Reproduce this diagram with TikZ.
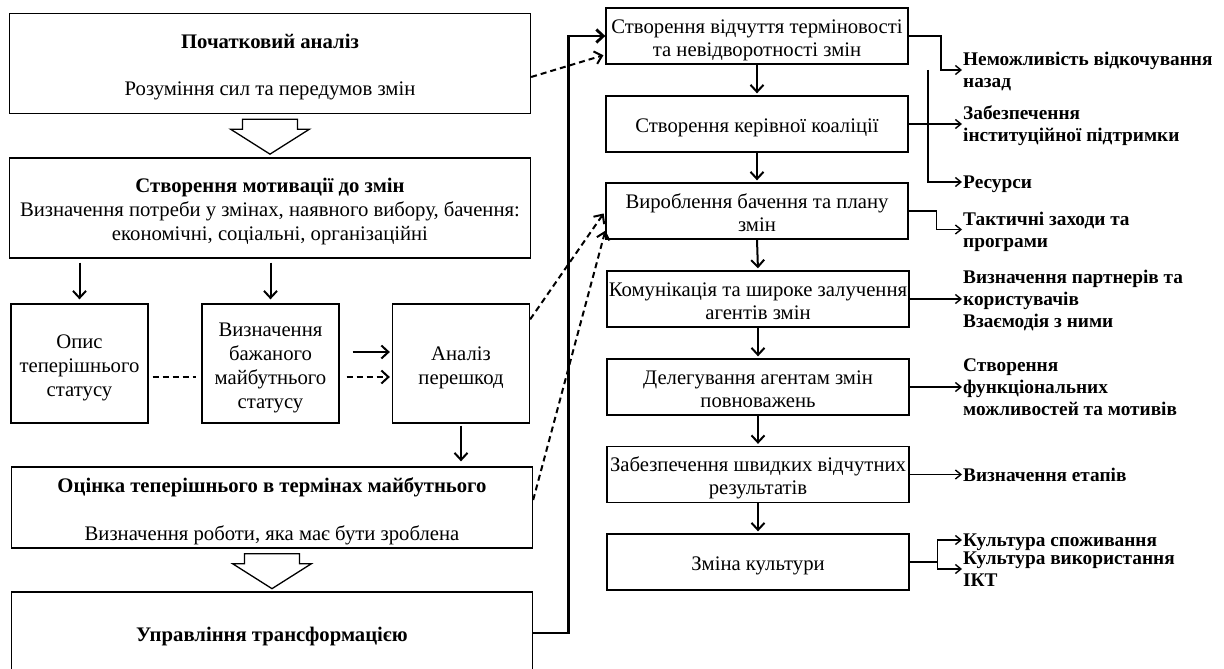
\documentclass[tikz,border=0pt]{standalone}
\usepackage{fontspec}
\setmainfont{Liberation Serif}
\usetikzlibrary{positioning, arrows.meta, calc}

% text set a little lower than the middle of its box
\newcommand{\boxtext}[1]{\raisebox{-4pt}[\height][\depth]{\begin{tabular}{@{}c@{}}#1\end{tabular}}}
\newcommand{\labeltext}[1]{\raisebox{-2.5pt}[\height][\depth]{\begin{tabular}{@{}l@{}}#1\end{tabular}}}

\tikzset{
  box/.style={draw, line width=1.3pt, inner sep=0pt, font=\fontsize{20.7}{24}\selectfont},
  wbox/.style={box, minimum width=521pt},
  sbox/.style={box, minimum width=137pt, minimum height=119pt},
  stage/.style={box, minimum width=302pt, minimum height=56pt, font=\fontsize{20.7}{23}\selectfont},
  rlabel/.style={anchor=west, inner sep=1pt, font=\bfseries\fontsize{19.3}{22}\selectfont},
  arr/.style={-{Straight Barb[length=7pt,width=13pt]}, line width=2pt},
  tarr/.style={-{Straight Barb[length=5.5pt,width=9pt]}, line width=1.4pt},
  darr/.style={arr, dash pattern=on 6pt off 4pt},
}

\begin{document}
\begin{tikzpicture}[x=1pt, y=-1pt]
                \useasboundingbox (0,0) rectangle (1224,669);

                % left column
                \node[wbox, minimum height=100pt] (Analysis) at (270,63.5) {\boxtext{\textbf{Початковий аналіз}\\[23pt]Розуміння сил та передумов змін}};
                \node[wbox, minimum height=100pt] (Motivation) at (270,208) {\boxtext{\textbf{Створення мотивації до змін}\\Визначення потреби у змінах, наявного вибору, бачення:\\економічні, соціальні, організаційні}};
                \node[sbox] (Current) at (79.5,363.5) {\boxtext{Опис\\теперішнього\\статусу}};
                \node[sbox] (Desired) at (270.5,363.5) {\boxtext{Визначення\\бажаного\\майбутнього\\статусу}};
                \node[sbox] (Barriers) at (461,363.5) {\boxtext{Аналіз\\перешкод}};
                \node[wbox, minimum height=81pt] (Assessment) at (272,507.5) {\boxtext{\textbf{Оцінка теперішнього в термінах майбутнього}\\[24pt]Визначення роботи, яка має бути зроблена}};
                \node[wbox, minimum height=82pt] (Management) at (272,633) {\boxtext{\textbf{Управління трансформацією}}};

                % right column
                \node[stage] (Urgency) at (757,36) {\boxtext{Створення відчуття терміновості\\та невідворотності змін}};
                \node[stage] (Coalition) at (757,124) {\boxtext{Створення керівної коаліції}};
                \node[stage] (Vision) at (757,211) {\boxtext{Вироблення бачення та плану\\змін}};
                \node[stage] (Communication) at (758,299) {\boxtext{Комунікація та широке залучення\\агентів змін}};
                \node[stage] (Delegation) at (758,387) {\boxtext{Делегування агентам змін\\повноважень}};
                \node[stage] (QuickWins) at (758,474.5) {\boxtext{Забезпечення швидких відчутних\\результатів}};
                \node[stage] (Culture) at (758,562) {\boxtext{Зміна культури}};

                \node[rlabel] (NoReturn) at (962,70) {\labeltext{Неможливість відкочування\\назад}};
                \node[rlabel] (Support) at (962,124) {\labeltext{Забезпечення\\інституційної підтримки}};
                \node[rlabel] (Resources) at (962,182) {\labeltext{Ресурси}};
                \node[rlabel] (Tactics) at (962,229.5) {\labeltext{Тактичні заходи та\\програми}};
                \node[rlabel] (Partners) at (962,299) {\labeltext{Визначення партнерів та\\користувачів\\Взаємодія з ними}};
                \node[rlabel] (Capabilities) at (962,387) {\labeltext{Створення\\функціональних\\можливостей та мотивів}};
                \node[rlabel] (Milestones) at (962,474.5) {\labeltext{Визначення етапів}};
                \node[rlabel] (Consumption) at (962,540) {\labeltext{Культура споживання}};
                \node[rlabel] (Usage) at (962,569) {\labeltext{Культура використання\\ІКТ}};

                % hollow arrows
                \foreach \src in {Analysis, Assessment}
                    \draw[line width=1.3pt, shift={(\src.south)}] (-27.5,5) -- (27.5,5) -- (27.5,15) -- (39.5,15) -- (0,40) -- (-39.5,15) -- (-27.5,15) -- cycle;

                \draw[arr, shorten <=4pt, shorten >=4pt] (Motivation.south -| Current.north) -- (Current.north);
                \draw[arr, shorten <=4pt, shorten >=4pt] (Motivation.south -| Desired.north) -- (Desired.north);
                \draw[darr, -, shorten <=4pt, shorten >=5pt] ([yshift=-13.5pt]Current.east) -- ([yshift=-13.5pt]Desired.west);
                \draw[arr, shorten <=13pt, shorten >=2pt] ([yshift=11.5pt]Desired.east) -- ([yshift=11.5pt]Barriers.west);
                \draw[darr, shorten <=7pt, shorten >=2pt] ([yshift=-13.5pt]Desired.east) -- ([yshift=-13.5pt]Barriers.west);
                \draw[arr, shorten <=2pt, shorten >=5pt] (Barriers.south) -- (Barriers.south |- Assessment.north);

                \foreach \a/\b in {Urgency/Coalition, Coalition/Vision, Vision/Communication, Communication/Delegation, Delegation/QuickWins, QuickWins/Culture}
                    \draw[arr, shorten >=2pt] (\a.south) -- (\b.north);

                % links between the columns
                \draw[arr, line width=2.8pt] (Management.east) -- ++(35,0) |- (Urgency.west);
                \draw[darr, shorten >=2pt] ([yshift=-13.5pt]Analysis.east) -- ([yshift=10pt]Urgency.south west);
                \draw[darr, shorten >=3pt] ([yshift=-16pt]Barriers.north east) -- (Vision.west);
                \draw[darr] ([yshift=7.5pt]Assessment.east) -- ([yshift=9pt]Vision.south west);

                % results
                \coordinate (fork) at (941,70);
                \coordinate (bracket) at (928,70);
                \draw[tarr] (Urgency.east) -| (fork) -- (NoReturn.west);
                \draw[tarr] (bracket) |- (Resources.west);
                \draw[tarr] (Coalition.east) -- (Support.west);
                \draw[tarr] (Vision.east) -- ++(28,0) |- (Tactics.west);
                \draw[tarr] (Communication.east) -- (Partners.west);
                \draw[tarr] (Delegation.east) -- (Capabilities.west);
                \draw[tarr] (QuickWins.east) -- (Milestones.west);
                \draw[line width=1.4pt] (Culture.east) -- ++(28,0) coordinate (split);
                \draw[tarr] (split) |- (Consumption.west);
                \draw[tarr] (split) |- (Usage.west);

            \end{tikzpicture}
\end{document}
